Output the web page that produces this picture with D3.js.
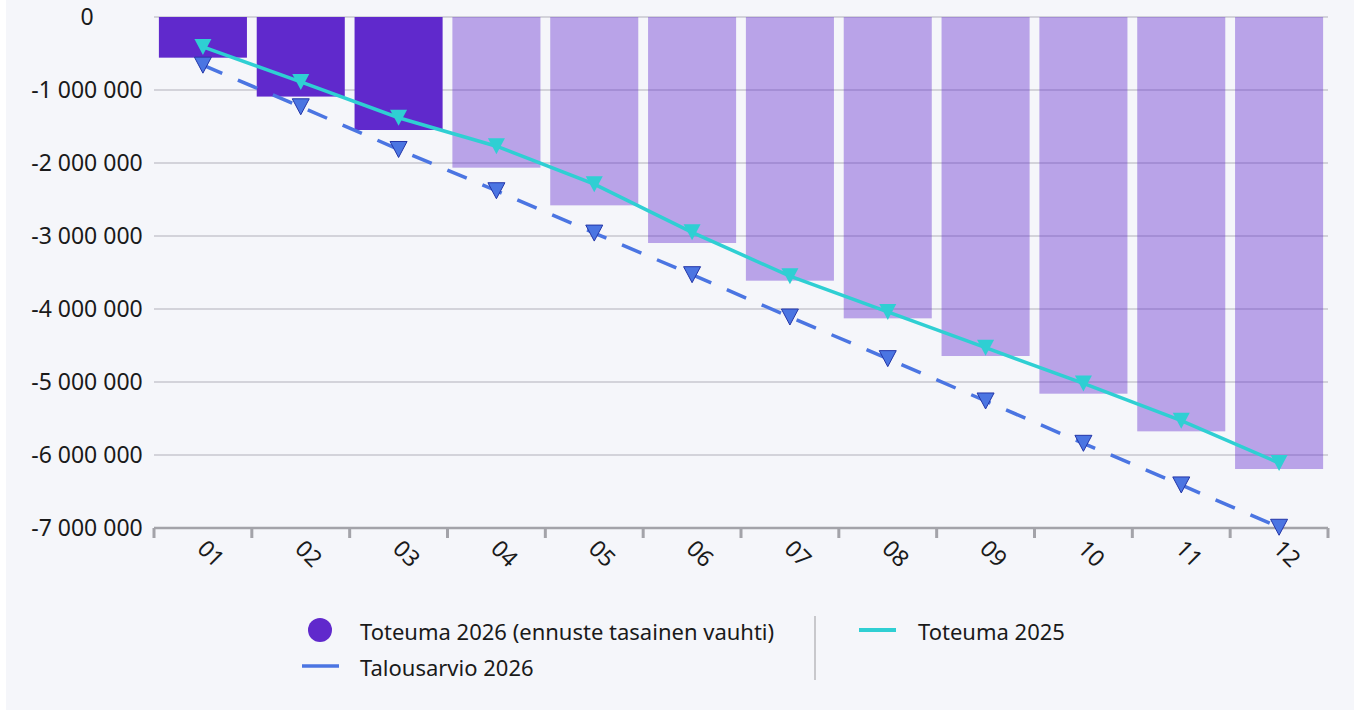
<!DOCTYPE html>
<html>
<head>
<meta charset="utf-8">
<script src="https://cdn.jsdelivr.net/npm/d3@7"></script>
<style>
  html, body { margin: 0; padding: 0; background: #ffffff; }
  svg { display: block; font-family: "Noto Sans", sans-serif; }
</style>
</head>
<body>
<div id="chart"></div>
<script>
// kuukaudet
const months = ["01", "02", "03", "04", "05", "06", "07", "08", "09", "10", "11", "12"];
// toteuma 2026, ensimmäiset kolme toteutuneita, loput ennuste tasaisella vauhdilla
const toteuma2026 = [-557000, -1090000, -1548000, -2064000, -2580000, -3096000,
                     -3612000, -4128000, -4644000, -5160000, -5676000, -6192000];
const ennuste = [false, false, false, true, true, true, true, true, true, true, true, true];
const toteuma2025 = [-410000, -890000, -1380000, -1770000, -2290000, -2950000,
                     -3550000, -4040000, -4530000, -5020000, -5530000, -6110000];
const talousarvio2026 = [-660000, -1230000, -1815000, -2380000, -2960000, -3530000,
                         -4110000, -4680000, -5260000, -5840000, -6410000, -6990000];
const yTicks = [0, -1000000, -2000000, -3000000, -4000000, -5000000, -6000000, -7000000];

const width = 1354, height = 710;
const plotLeft = 154, plotRight = 1328, plotTop = 17, plotBottom = 528;

const colBar = "#6029cc";
const colBudget = "#4b75e2";
const colPrev = "#2fcfd3";

const svg = d3.select("#chart").append("svg")
    .attr("width", width)
    .attr("height", height);

// taustapaneeli
svg.append("rect")
    .attr("x", 6).attr("y", 0)
    .attr("width", width - 6).attr("height", height)
    .attr("fill", "#f5f6fa");

const x = d3.scaleBand()
    .domain(months)
    .range([plotLeft, plotRight])
    .paddingInner(0.1)
    .paddingOuter(0.05);

const y = d3.scaleLinear()
    .domain([-7000000, 0])
    .range([plotBottom, plotTop]);

const fmt = v => d3.format(",")(v).replace(/,/g, " ").replace("−", "-");

// ruudukko
svg.append("g")
    .selectAll("line")
    .data(yTicks.filter(d => d !== -7000000))
    .join("line")
    .attr("x1", plotLeft).attr("x2", plotRight)
    .attr("y1", d => y(d)).attr("y2", d => y(d))
    .attr("stroke", "#d3d3da")
    .attr("stroke-width", 2);

// y-akselin tekstit
svg.append("g")
    .selectAll("text")
    .data(yTicks)
    .join("text")
    .attr("x", 87)
    .attr("y", d => y(d))
    .attr("dy", "0.35em")
    .attr("text-anchor", "middle")
    .attr("fill", "#1a1a1a")
    .style("font-size", "23px")
    .text(fmt);

// pylväät
svg.append("g")
    .selectAll("rect")
    .data(months)
    .join("rect")
    .attr("x", d => x(d))
    .attr("width", x.bandwidth())
    .attr("y", y(0))
    .attr("height", (d, i) => y(toteuma2026[i]) - y(0))
    .attr("fill", colBar)
    .attr("fill-opacity", (d, i) => ennuste[i] ? 0.4 : 1);

// x-akseli
svg.append("line")
    .attr("x1", plotLeft).attr("x2", plotRight)
    .attr("y1", plotBottom).attr("y2", plotBottom)
    .attr("stroke", "#a3a3a9")
    .attr("stroke-width", 2.5);

const tickPos = months.map(m => x(m) - x.step() * x.paddingInner() / 2);
tickPos[0] = plotLeft;
tickPos.push(plotRight);
svg.append("g")
    .selectAll("line")
    .data(tickPos)
    .join("line")
    .attr("x1", d => d).attr("x2", d => d)
    .attr("y1", plotBottom).attr("y2", plotBottom + 10)
    .attr("stroke", "#a3a3a9")
    .attr("stroke-width", 3);

svg.append("g")
    .selectAll("text")
    .data(months)
    .join("text")
    .attr("transform", d => `translate(${x(d) + x.bandwidth() / 2 - 7},${plotBottom + 22}) rotate(45)`)
    .attr("fill", "#1a1a1a")
    .style("font-size", "23px")
    .text(d => d);

const cx = d => x(d) + x.bandwidth() / 2;

// talousarvio 2026
svg.append("path")
    .datum(months)
    .attr("fill", "none")
    .attr("stroke", colBudget)
    .attr("stroke-width", 3.5)
    .attr("stroke-dasharray", "21,17")
    .attr("d", d3.line().x(cx).y((d, i) => y(talousarvio2026[i])));

// toteuma 2025
svg.append("path")
    .datum(months)
    .attr("fill", "none")
    .attr("stroke", colPrev)
    .attr("stroke-width", 3.5)
    .attr("d", d3.line().x(cx).y((d, i) => y(toteuma2025[i])));

const tri = "M-8.5,-8L8.5,-8L0,8Z";

svg.append("g")
    .selectAll("path")
    .data(months)
    .join("path")
    .attr("transform", (d, i) => `translate(${cx(d)},${y(talousarvio2026[i])})`)
    .attr("d", tri)
    .attr("fill", colBudget)
    .attr("stroke", "#2436a8")
    .attr("stroke-width", 1);

svg.append("g")
    .selectAll("path")
    .data(months)
    .join("path")
    .attr("transform", (d, i) => `translate(${cx(d)},${y(toteuma2025[i])})`)
    .attr("d", tri)
    .attr("fill", colPrev);

// selite
const legend = svg.append("g").style("font-size", "22px").attr("fill", "#1a1a1a");

legend.append("circle")
    .attr("cx", 320).attr("cy", 630).attr("r", 12)
    .attr("fill", colBar);
legend.append("text")
    .attr("x", 360).attr("y", 640)
    .text("Toteuma 2026 (ennuste tasainen vauhti)");

legend.append("line")
    .attr("x1", 302).attr("x2", 339)
    .attr("y1", 666).attr("y2", 666)
    .attr("stroke", colBudget)
    .attr("stroke-width", 3.5);
legend.append("text")
    .attr("x", 360).attr("y", 676)
    .text("Talousarvio 2026");

legend.append("line")
    .attr("x1", 815).attr("x2", 815)
    .attr("y1", 616).attr("y2", 680)
    .attr("stroke", "#c8c8cc")
    .attr("stroke-width", 2);

legend.append("line")
    .attr("x1", 859).attr("x2", 896)
    .attr("y1", 630).attr("y2", 630)
    .attr("stroke", colPrev)
    .attr("stroke-width", 4);
legend.append("text")
    .attr("x", 918).attr("y", 640)
    .text("Toteuma 2025");
</script>
</body>
</html>
